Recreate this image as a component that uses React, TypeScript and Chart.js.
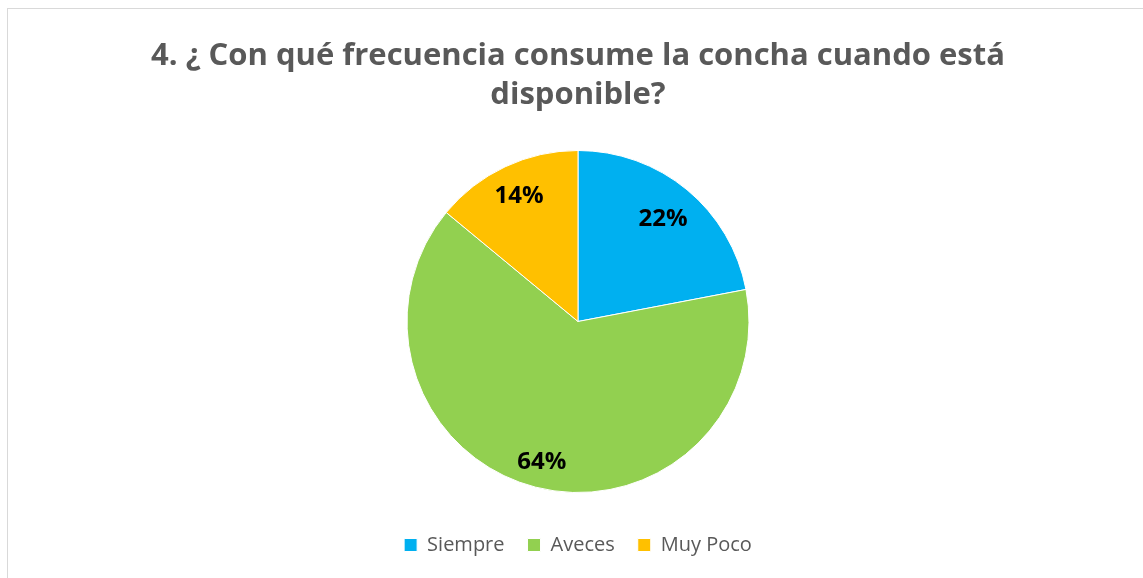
import React, { useEffect, useRef } from "react";
import { Chart, registerables } from "chart.js";

Chart.register(...registerables);

const titleLines = ["4. ¿ Con qué frecuencia consume la concha cuando está", "disponible?"];
const categories = ["Siempre", "Aveces", "Muy Poco"];
const percentages = [22, 64, 14];
const sliceColors = ["#00B0F0", "#92D050", "#FFC000"];

const FONT = "'Open Sans', sans-serif";

const labelPlugin = {
  id: "sliceLabels",
  afterDatasetsDraw(chart: any) {
    const { ctx } = chart;
    const meta = chart.getDatasetMeta(0);
    const fractions = [0.78, 0.85, 0.81];
    ctx.save();
    ctx.font = `bold 24px ${FONT}`;
    ctx.fillStyle = "#000000";
    ctx.textAlign = "center";
    ctx.textBaseline = "middle";
    meta.data.forEach((arc: any, i: number) => {
      const { x, y, startAngle, endAngle, outerRadius } = arc.getProps(
        ["x", "y", "startAngle", "endAngle", "outerRadius"],
        true
      );
      const mid = (startAngle + endAngle) / 2;
      const r = outerRadius * fractions[i];
      ctx.fillText(`${percentages[i]}%`, x + Math.cos(mid) * r, y + Math.sin(mid) * r);
    });
    ctx.restore();
  },
};

export default function App() {
  const ref = useRef<HTMLCanvasElement | null>(null);
  useEffect(() => {
    if (!ref.current) return;
    const chart = new Chart(ref.current, {
      type: "pie",
      data: {
        labels: categories,
        datasets: [
          {
            data: percentages,
            backgroundColor: sliceColors,
            borderColor: "#ffffff",
            borderWidth: 1,
            radius: 171,
          },
        ],
      },
      options: {
        animation: false,
        responsive: false,
        layout: { padding: { top: 0, bottom: 13, left: 0, right: 0 } },
        plugins: {
          title: {
            display: true,
            text: titleLines,
            color: "#595959",
            font: { family: FONT, size: 31, weight: "bold", lineHeight: 1.258 },
            padding: { top: 28, bottom: 16 },
          },
          legend: {
            display: true,
            position: "bottom",
            labels: {
              color: "#595959",
              font: { family: FONT, size: 20 },
              boxWidth: 13,
              boxHeight: 13,
              padding: 23,
            },
          },
          tooltip: { enabled: false },
        },
      },
      plugins: [labelPlugin],
    });
    return () => chart.destroy();
  }, []);
  return (
    <div
      style={{
        position: "absolute",
        left: 7,
        top: 8,
        width: 1136,
        height: 570,
        borderTop: "1px solid #d9d9d9",
        borderLeft: "1px solid #d9d9d9",
        overflow: "hidden",
        background: "#ffffff",
      }}
    >
      <canvas ref={ref} width={1140} height={569} style={{ display: "block" }} />
    </div>
  );
}
